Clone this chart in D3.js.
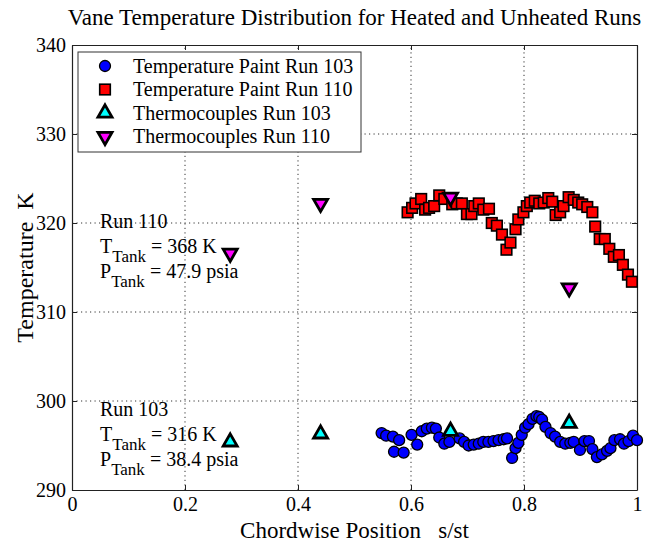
<!DOCTYPE html>
<html>
<head>
<meta charset="utf-8">
<script src="https://cdn.jsdelivr.net/npm/d3@7"></script>
<style>
	body { margin: 0; background: #fff; }
	text { font-family: "Liberation Serif", "Times New Roman", serif; fill: #000; }
</style>
</head>
<body>
<script>
// Temperature paint, run 103 (unheated): [s/st, K]
const paint103 = [
	[0.548, 296.4], [0.556, 296.1], [0.568, 296.0], [0.570, 294.3], [0.579, 295.6], [0.587, 294.2],
	[0.601, 296.2], [0.611, 295.1], [0.619, 296.6], [0.628, 296.9], [0.637, 297.0], [0.644, 296.9],
	[0.650, 295.9], [0.659, 295.2], [0.668, 295.4], [0.686, 295.8], [0.694, 295.4], [0.702, 295.0],
	[0.711, 295.1], [0.720, 295.2], [0.728, 295.4], [0.737, 295.4], [0.746, 295.5], [0.755, 295.6],
	[0.764, 295.7], [0.770, 295.8], [0.779, 293.6], [0.785, 294.7], [0.790, 295.3], [0.796, 296.2],
	[0.802, 297.0], [0.808, 297.4], [0.815, 298.0], [0.822, 298.3], [0.827, 298.2], [0.832, 297.9],
	[0.838, 297.1], [0.847, 296.4], [0.855, 296.0], [0.864, 295.4], [0.873, 295.2], [0.882, 295.3],
	[0.888, 295.4], [0.899, 294.5], [0.907, 295.5], [0.915, 295.5], [0.921, 294.6], [0.929, 293.7],
	[0.938, 294.0], [0.947, 294.4], [0.953, 294.7], [0.960, 295.6], [0.970, 295.7], [0.977, 295.2],
	[0.985, 295.5], [0.993, 296.1], [1.000, 295.6]
];

// Temperature paint, run 110 (heated): [s/st, K]
const paint110 = [
	[0.594, 321.2], [0.602, 321.7], [0.608, 322.2], [0.618, 322.7], [0.625, 321.5], [0.632, 321.7],
	[0.641, 321.9], [0.650, 323.1], [0.659, 322.7], [0.673, 322.1], [0.681, 322.2], [0.690, 322.2],
	[0.699, 321.0], [0.707, 321.0], [0.712, 321.9], [0.720, 322.2], [0.728, 321.5], [0.738, 321.6],
	[0.743, 320.0], [0.752, 319.7], [0.761, 318.7], [0.769, 317.0], [0.776, 317.8], [0.785, 319.3],
	[0.790, 320.4], [0.799, 321.2], [0.805, 321.9], [0.811, 322.3], [0.819, 322.5], [0.827, 322.2],
	[0.835, 322.3], [0.843, 322.8], [0.850, 322.4], [0.856, 320.9], [0.864, 321.2], [0.870, 321.9],
	[0.879, 322.9], [0.888, 322.6], [0.896, 322.3], [0.903, 322.1], [0.912, 321.8], [0.921, 321.2],
	[0.926, 319.6], [0.934, 318.2], [0.943, 318.2], [0.951, 317.1], [0.959, 316.2], [0.968, 316.4],
	[0.975, 315.3], [0.984, 314.2], [0.991, 313.4]
];

// Thermocouples
const thermo103 = [[0.28, 295.4], [0.44, 296.3], [0.67, 296.6], [0.88, 297.5]];
const thermo110 = [[0.28, 316.6], [0.44, 322.2], [0.67, 322.9], [0.88, 312.7]];

// Axis ticks
const xTicks = [0, 0.2, 0.4, 0.6, 0.8, 1];
const yTicks = [290, 300, 310, 320, 330, 340];

const legendLabels = [
	"Temperature Paint Run 103",
	"Temperature Paint Run 110",
	"Thermocouples Run 103",
	"Thermocouples Run 110"
];

// Run condition notes: [run, tank temperature, tank pressure, temperature level of first line]
const runNotes = [
	["Run 110", "368 K", "47.9 psia", 319.45],
	["Run 103", "316 K", "38.4 psia", 298.3]
];

const width = 655;
const height = 542;
const margin = { top: 45, right: 18, bottom: 52, left: 72 };

const svg = d3.select("body").append("svg").attr("width", width).attr("height", height);

const xScale = d3.scaleLinear().domain([0, 1]).range([margin.left, width - margin.right]);
const yScale = d3.scaleLinear().domain([290, 340]).range([height - margin.bottom, margin.top]);

// Dotted grid
svg.append("g")
	.selectAll("line")
	.data(xTicks.slice(1, -1))
	.join("line")
	.attr("x1", (d) => xScale(d))
	.attr("x2", (d) => xScale(d))
	.attr("y1", yScale(290))
	.attr("y2", yScale(340))
	.attr("stroke", "#333")
	.attr("stroke-dasharray", "1.2,3.3");

svg.append("g")
	.selectAll("line")
	.data(yTicks.slice(1, -1))
	.join("line")
	.attr("x1", xScale(0))
	.attr("x2", xScale(1))
	.attr("y1", (d) => yScale(d))
	.attr("y2", (d) => yScale(d))
	.attr("stroke", "#333")
	.attr("stroke-dasharray", "1.2,3.3");

// Axes, ticks pointing inward like MATLAB
const xAxis = svg.append("g")
	.attr("transform", `translate(0, ${yScale(290)})`)
	.call(d3.axisBottom(xScale).tickValues(xTicks).tickSizeInner(-5).tickSizeOuter(0).tickPadding(7).tickFormat((d) => d));
const xAxisTop = svg.append("g")
	.attr("transform", `translate(0, ${yScale(340)})`)
	.call(d3.axisTop(xScale).tickValues(xTicks).tickSizeInner(-5).tickSizeOuter(0).tickFormat(""));
const yAxis = svg.append("g")
	.attr("transform", `translate(${xScale(0)}, 0)`)
	.call(d3.axisLeft(yScale).tickValues(yTicks).tickSizeInner(-5).tickSizeOuter(0).tickPadding(6));
const yAxisRight = svg.append("g")
	.attr("transform", `translate(${xScale(1)}, 0)`)
	.call(d3.axisRight(yScale).tickValues(yTicks).tickSizeInner(-5).tickSizeOuter(0).tickFormat(""));

[xAxis, xAxisTop, yAxis, yAxisRight].forEach((g) => {
	g.select(".domain").attr("stroke", "#222").attr("stroke-width", 1.2);
	g.selectAll(".tick line").attr("stroke", "#222");
	g.selectAll("text").attr("font-size", 20).attr("font-family", "Liberation Serif, serif").attr("fill", "#000");
});

// Markers
const markerFill = { circle: "#0000ff", square: "#ff0000", up: "#00ffff", down: "#ff00ff" };

function drawMarker(g, type, x, y) {
	if (type === "circle") {
		g.append("circle").attr("cx", x).attr("cy", y).attr("r", 5.5)
			.attr("fill", markerFill.circle).attr("stroke", "#000").attr("stroke-width", 1.3);
	} else if (type === "square") {
		g.append("rect").attr("x", x - 5.3).attr("y", y - 5.3).attr("width", 10.6).attr("height", 10.6)
			.attr("fill", markerFill.square).attr("stroke", "#000").attr("stroke-width", 1.6);
	} else {
		const sym = d3.symbol().type(d3.symbolTriangle).size(85);
		g.append("path").attr("d", sym())
			.attr("transform", `translate(${x}, ${y})` + (type === "down" ? " rotate(180)" : ""))
			.attr("fill", markerFill[type]).attr("stroke", "#000").attr("stroke-width", 2.8);
	}
}

const series = [
	[paint103, "circle"],
	[paint110, "square"],
	[thermo103, "up"],
	[thermo110, "down"]
];

series.forEach(([data, type]) => {
	const g = svg.append("g");
	data.forEach((d) => drawMarker(g, type, xScale(d[0]), yScale(d[1])));
});

// Run notes
runNotes.forEach(([run, temp, pres, v0]) => {
	const y0 = yScale(v0);
	const note = svg.append("g").attr("font-size", 20);
	note.append("text").attr("x", 100).attr("y", y0).text(run);
	const t = note.append("text").attr("x", 100).attr("y", y0 + 25);
	t.append("tspan").text("T");
	t.append("tspan").attr("dy", 9).attr("font-size", 17).text("Tank");
	t.append("tspan").attr("dy", -9).text(" = " + temp);
	const p = note.append("text").attr("x", 100).attr("y", y0 + 50);
	p.append("tspan").text("P");
	p.append("tspan").attr("dy", 9).attr("font-size", 17).text("Tank");
	p.append("tspan").attr("dy", -9).text(" = " + pres);
});

// Legend
const legend = svg.append("g").attr("transform", "translate(78, 52)");
legend.append("rect")
	.attr("width", 283).attr("height", 100)
	.attr("fill", "#fff").attr("stroke", "#333").attr("stroke-width", 1);
const legendTypes = ["circle", "square", "up", "down"];
legendLabels.forEach((label, i) => {
	const cy = 14 + i * 23.5;
	drawMarker(legend, legendTypes[i], 27, cy);
	legend.append("text").attr("x", 55).attr("y", cy + 6.5).attr("font-size", 20).text(label);
});

// Title and axis labels
svg.append("text")
	.attr("x", (xScale(0) + xScale(1)) / 2).attr("y", 25)
	.attr("text-anchor", "middle").attr("font-size", 23)
	.text("Vane Temperature Distribution for Heated and Unheated Runs");

svg.append("text")
	.attr("x", (xScale(0) + xScale(1)) / 2).attr("y", 538)
	.attr("text-anchor", "middle").attr("font-size", 23)
	.attr("xml:space", "preserve")
	.text("Chordwise Position   s/st");

svg.append("text")
	.attr("transform", `translate(33, ${(yScale(290) + yScale(340)) / 2}) rotate(-90)`)
	.attr("text-anchor", "middle").attr("font-size", 24)
	.attr("xml:space", "preserve")
	.text("Temperature  K");
</script>
</body>
</html>
